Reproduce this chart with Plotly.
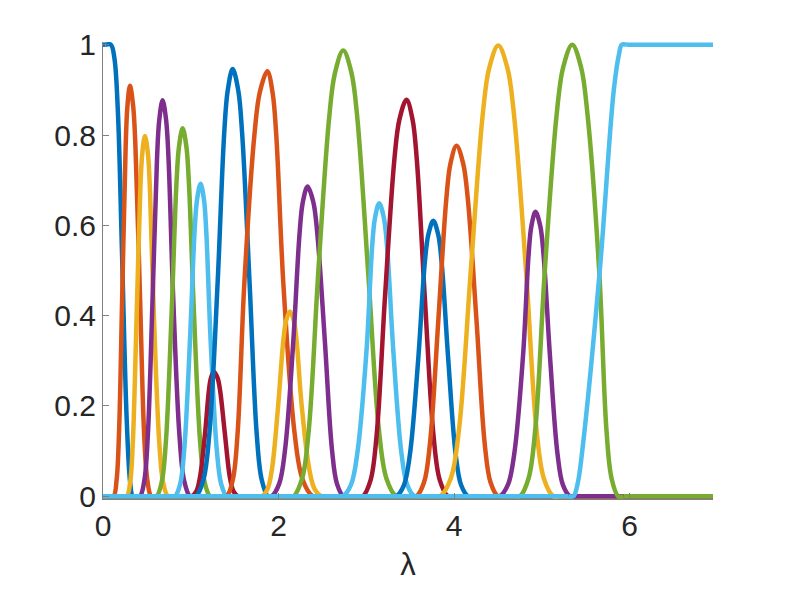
import plotly.graph_objects as go

# MATLAB default colour order
colors = ["#0072BD", "#D95319", "#EDB120", "#7E2F8E", "#77AC30", "#4DBEEE", "#A2142F"]

X_MAX = 6.95

# lowpass (first) curve
low_x = [0.0, 0.09, 0.13, 0.17, 0.215, 0.27, 0.31, 0.34]
low_y = [1.0, 1.0, 0.97, 0.85, 0.55, 0.17, 0.03, 0.0]

# band-pass bumps (18 curves), left to right:
# foot, ~4%, ~15%, half, ~85%, ~95%, peak, ~95%, ~85%, half, ~15%, ~4%, foot
foot_left  = [0.12, 0.27, 0.42, 0.61, 0.82, 1.01, 1.06, 1.41, 1.81, 1.92, 2.17, 2.73, 2.96, 3.34, 3.57, 3.84, 4.52, 4.75]
tail_left  = [0.155, 0.310, 0.471, 0.670, 0.880, 1.063, 1.146, 1.48, 1.875, 2.007, 2.269, 2.826, 3.048, 3.428, 3.658, 3.963, 4.613, 4.849]
low_left   = [0.182, 0.340, 0.510, 0.717, 0.926, 1.104, 1.213, 1.534, 1.926, 2.074, 2.345, 2.899, 3.116, 3.496, 3.725, 4.057, 4.686, 4.926]
half_left  = [0.22, 0.383, 0.565, 0.782, 0.991, 1.162, 1.306, 1.61, 1.997, 2.168, 2.452, 3.003, 3.212, 3.592, 3.82, 4.19, 4.787, 5.034]
high_left  = [0.258, 0.425, 0.615, 0.837, 1.044, 1.207, 1.381, 1.725, 2.056, 2.24, 2.577, 3.066, 3.32, 3.667, 3.912, 4.328, 4.849, 5.171]
top_left   = [0.278, 0.447, 0.641, 0.866, 1.072, 1.230, 1.421, 1.786, 2.086, 2.277, 2.643, 3.099, 3.377, 3.707, 3.959, 4.40, 4.881, 5.243]
peak_x     = [0.307, 0.478, 0.679, 0.907, 1.112, 1.264, 1.477, 1.872, 2.13, 2.331, 2.737, 3.147, 3.458, 3.763, 4.028, 4.503, 4.928, 5.346]
top_right  = [0.344, 0.512, 0.719, 0.950, 1.150, 1.305, 1.541, 1.932, 2.174, 2.396, 2.831, 3.2, 3.527, 3.819, 4.103, 4.608, 4.982, 5.447]
high_right = [0.370, 0.535, 0.747, 0.979, 1.176, 1.334, 1.585, 1.974, 2.204, 2.441, 2.897, 3.237, 3.575, 3.858, 4.156, 4.681, 5.019, 5.518]
half_right = [0.42, 0.58, 0.80, 1.036, 1.226, 1.389, 1.67, 2.055, 2.262, 2.528, 3.022, 3.307, 3.667, 3.933, 4.256, 4.82, 5.091, 5.653]
low_right  = [0.469, 0.641, 0.872, 1.106, 1.296, 1.446, 1.75, 2.182, 2.349, 2.609, 3.143, 3.399, 3.767, 4.019, 4.349, 4.938, 5.178, 5.735]
tail_right = [0.505, 0.684, 0.924, 1.156, 1.346, 1.487, 1.807, 2.273, 2.41, 2.666, 3.229, 3.465, 3.838, 4.081, 4.415, 5.022, 5.24, 5.794]
foot_right = [0.55, 0.74, 0.99, 1.22, 1.41, 1.54, 1.88, 2.39, 2.49, 2.74, 3.34, 3.55, 3.93, 4.16, 4.50, 5.13, 5.32, 5.87]
peak_y     = [0.909, 0.798, 0.877, 0.815, 0.692, 0.276, 0.946, 0.941, 0.409, 0.686, 0.987, 0.649, 0.878, 0.610, 0.776, 0.998, 0.630, 1.0]
# relative heights at the read points (fraction of peak)
level_frac = [0.0, 0.04, 0.15, 0.5, 0.85, 0.95, 1.0, 0.95, 0.85, 0.5, 0.15, 0.04, 0.0]

# highpass (last) curve
high_x = [5.36, 5.41, 5.46, 5.66, 5.82, 5.88, 5.91]
high_y = [0.0, 0.03, 0.10, 0.50, 0.90, 0.98, 1.0]

fig = go.Figure()
line_w = 4.5
PAD = 0.06  # flat lead-in/lead-out so the spline meets the baseline smoothly


def add_curve(color, xs, ys, y_first, y_last):
    xs = [xs[0] - PAD] + list(xs) + [xs[-1] + PAD]
    ys = [y_first] + list(ys) + [y_last]
    # flat parts (straight), then the smooth part
    fig.add_trace(go.Scatter(x=[0.0, xs[0], None, xs[-1], X_MAX],
                             y=[y_first, y_first, None, y_last, y_last],
                             mode="lines", line=dict(color=color, width=line_w),
                             hoverinfo="skip"))
    fig.add_trace(go.Scatter(x=xs, y=ys, mode="lines",
                             line=dict(color=color, width=line_w, shape="spline", smoothing=1.0),
                             hoverinfo="skip"))


add_curve(colors[0], low_x[1:], low_y[1:], 1.0, 0.0)
for i in range(len(peak_x)):
    h = peak_y[i]
    xs = [foot_left[i], tail_left[i], low_left[i], half_left[i], high_left[i], top_left[i],
          peak_x[i],
          top_right[i], high_right[i], half_right[i], low_right[i], tail_right[i], foot_right[i]]
    ys = [f * h for f in level_frac]
    add_curve(colors[(i + 1) % 7], xs, ys, 0.0, 0.0)
add_curve(colors[19 % 7], high_x, high_y, 0.0, 1.0)

font_family = "Liberation Sans, Arial, Helvetica, sans-serif"
fig.update_layout(
    width=789, height=592,
    margin=dict(l=95, r=84, t=34, b=101),
    paper_bgcolor="white", plot_bgcolor="white",
    showlegend=False,
    font=dict(family=font_family, size=30, color="#262626"),
    xaxis=dict(range=[0, X_MAX], tickvals=[0, 2, 4, 6], ticktext=["0", "2", "4", "6"],
               ticks="inside", ticklen=6, tickcolor="#808080",
               showline=True, linecolor="#808080", linewidth=1,
               showgrid=False, zeroline=False, automargin=False,
               title=dict(text="λ", standoff=12, font=dict(size=31))),
    yaxis=dict(range=[-0.006, 1.006], tickvals=[0, 0.2, 0.4, 0.6, 0.8, 1],
               ticktext=["0", "0.2", "0.4", "0.6", "0.8", "1"],
               ticks="inside", ticklen=6, tickcolor="#808080",
               showline=True, linecolor="#808080", linewidth=1,
               showgrid=False, zeroline=False, automargin=False),
)

fig.write_html("out.html")
